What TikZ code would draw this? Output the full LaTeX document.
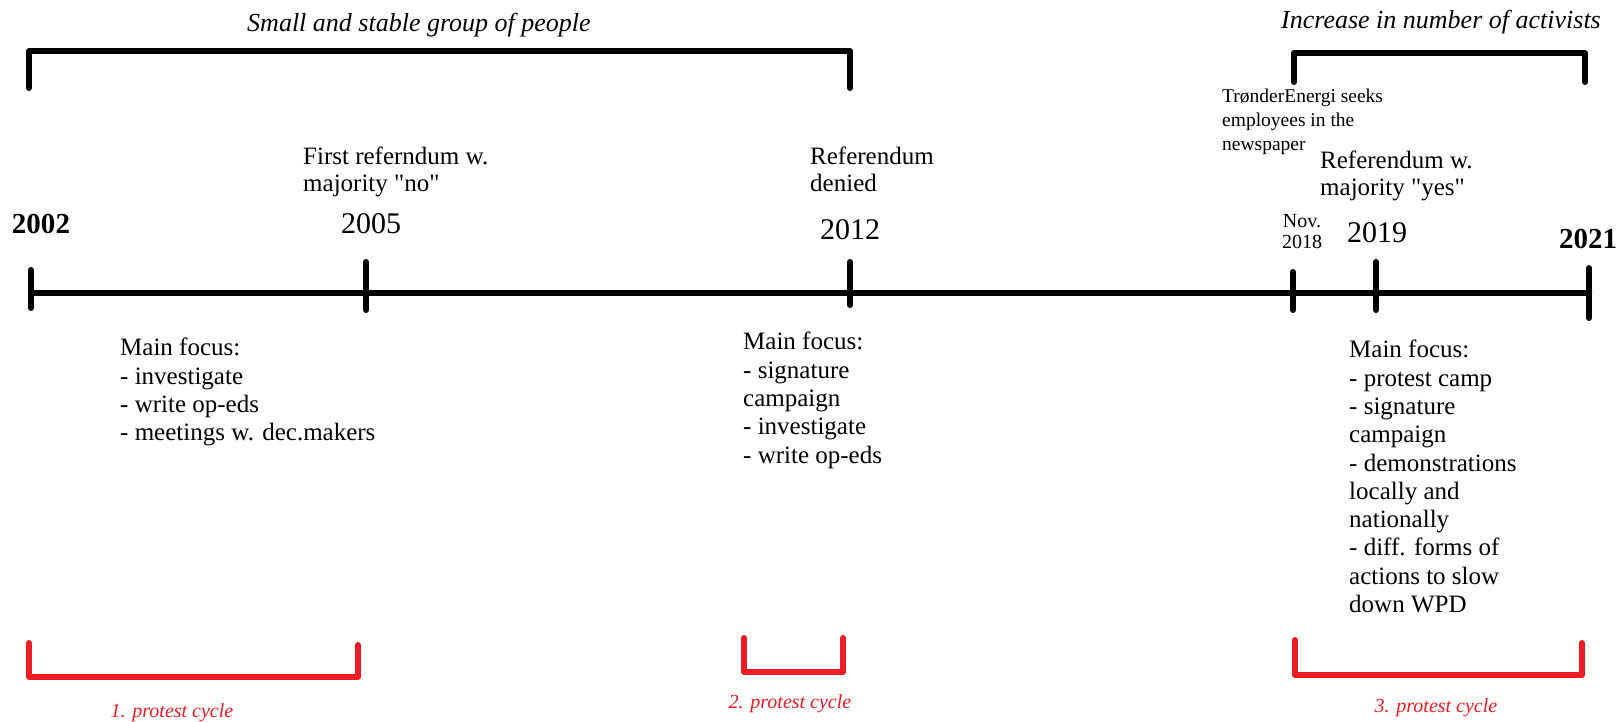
\documentclass[tikz,border=0pt]{standalone}
\usepackage{fontspec}
\setmainfont{Liberation Serif}
\usetikzlibrary{positioning}
\definecolor{cyclered}{HTML}{ED1C24}

\begin{document}
\begin{tikzpicture}[x=1pt,y=-1pt,line cap=round,line join=round,
  axis/.style={line width=6.5pt},
  yeartick/.style={line width=6pt},
  brace/.style={line width=6pt},
  cyclebrace/.style={line width=6pt,cyclered},
  year/.style={inner sep=0pt,anchor=base,font=\fontsize{30}{30}\selectfont},
  yearbold/.style={year,font=\fontsize{29}{29}\selectfont\bfseries},
  phase/.style={inner sep=0pt,anchor=base,font=\fontsize{26}{30}\selectfont\itshape},
  event/.style={inner sep=0pt,anchor=north west,align=left,font=\fontsize{25}{27}\selectfont},
  focus/.style={inner sep=0pt,anchor=north west,align=left,font=\fontsize{25}{28.3}\selectfont},
  cyclelabel/.style={inner sep=0pt,anchor=base,cyclered,font=\fontsize{20}{24}\selectfont\itshape}]
\useasboundingbox (0,0) rectangle (1621,721);

% phases of the group
\draw[brace] (29,88)--(29,51)--(850,51)--(850,88);
\draw[brace] (1294,82)--(1294,53)--(1585,53)--(1585,82);
\node[phase] (phase1) at (419,31) {Small and stable group of people};
\node[phase] (phase2) at (1441,28) {Increase in number of activists};

% timeline
\draw[axis] (31,293)--(1589,293);
\foreach \x/\a/\b in {31/270/308,366/262/310,850/262/305,1293/272/310,1376/262/310,1589/268/318}
  \draw[yeartick] (\x,\a)--(\x,\b);

\node[yearbold] (y2002) at (41,233) {2002};
\node[year] (y2005) at (371,233) {2005};
\node[year] (y2012) at (850,239) {2012};
\node[year] (y2019) at (1377,242) {2019};
\node[yearbold] (y2021) at (1588,248) {2021};
\node[inner sep=0pt,anchor=north,align=center,font=\fontsize{20}{21}\selectfont] (y2018) at (1302,214) {Nov.\\2018};

% events
\node[event] (ref2005) at (303,147) {First referndum w.\\majority \textquotedbl no\textquotedbl};
\node[event] (ref2012) at (810,147) {Referendum\\denied};
\node[event] (ref2019) at (1320,151) {Referendum w.\\majority \textquotedbl yes\textquotedbl};
\node[event,font=\fontsize{19.5}{24}\selectfont] (newsad) at (1222,89) {TrønderEnergi seeks\\employees in the\\newspaper};

% main focus
\node[focus] (focus1) at (120,338) {Main focus:\\- investigate\\- write op-eds\\- meetings w. dec.makers};
\node[focus] (focus2) at (743,332) {Main focus:\\- signature\\campaign\\- investigate\\- write op-eds};
\node[focus] (focus3) at (1349,340) {Main focus:\\- protest camp\\- signature\\campaign\\- demonstrations\\locally and\\nationally\\- diff. forms of\\actions to slow\\down WPD};

% protest cycles
\draw[cyclebrace] (29,643)--(29,677)--(358,677)--(358,645);
\draw[cyclebrace] (744,638)--(744,672)--(843,672)--(843,638);
\draw[cyclebrace] (1295,640)--(1295,675)--(1582,675)--(1582,643);
\node[cyclelabel] (cycle1) at (172,717) {1. protest cycle};
\node[cyclelabel] (cycle2) at (790,708) {2. protest cycle};
\node[cyclelabel] (cycle3) at (1436,712) {3. protest cycle};
\end{tikzpicture}
\end{document}
